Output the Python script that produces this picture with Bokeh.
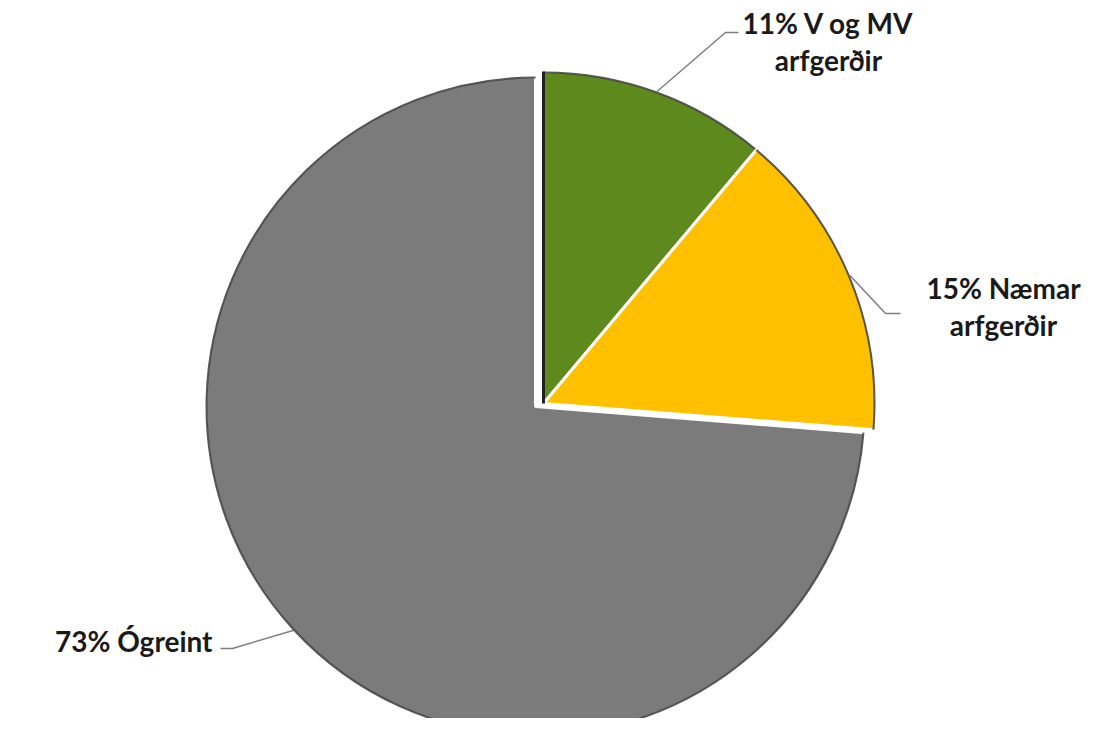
import math
from bokeh.plotting import figure
from bokeh.models import Range1d
from bokeh.core.properties import value
from bokeh.embed import file_html
from bokeh.resources import INLINE

# ---- data ----
categories = ["V og MV arfgerðir", "Næmar arfgerðir", "Ógreint"]
label_lines = [["11% V og MV", "arfgerðir"], ["15% Næmar", "arfgerðir"], ["73% Ógreint"]]
values = [11, 15, 73]

# ---- styles / layout ----
colors = ["#5e8a1d", "#ffc000", "#7b7b7b"]
H = 734  # reference height; y is flipped so that y_data = H - y_screen
W_FIG, H_FIG = 1084, 718
centers = [(543, 403), (543, 403), (535, 406)]
radii = [332, 332, 330]
# label anchor (x, y_screen, align), leader elbow and end (screen coords)
label_pos = [(828, 22, "center"), (1003, 287, "center"), (212, 640, "right")]
leader_elbow = [(725, 32), (885, 313), (232, 648)]
leader_end = [(738, 32), (900, 313), (220, 648)]
FONT = "Lato"

p = figure(width=W_FIG, height=H_FIG, x_range=Range1d(0, W_FIG), y_range=Range1d(H - H_FIG, H),
           output_backend="svg", toolbar_location=None, x_axis_type=None, y_axis_type=None,
           min_border=0)
p.grid.visible = False
p.outline_line_color = None
p.background_fill_color = "white"
p.border_fill_color = "white"

total = float(sum(values))
start = 90.0
angles = []
for v in values:
    sweep = v / total * 360.0
    angles.append((start, start - sweep))
    start -= sweep

# draw gray (largest) first, then the others on top
order = [2, 0, 1]
for i in order:
    a0, a1 = angles[i]
    cx, cy = centers[i]
    r = radii[i]
    p.wedge(x=[cx], y=[H - cy], radius=r, radius_units="data",
            start_angle=math.radians(a0), end_angle=math.radians(a1), direction="clock",
            fill_color=colors[i], line_color="white", line_width=3)
    # dark rim
    p.arc(x=[cx], y=[H - cy], radius=r - 1, radius_units="data",
          start_angle=math.radians(a0), end_angle=math.radians(a1), direction="clock",
          line_color="#2e2e2e", line_width=2, line_alpha=0.8)

# dark edge along left of green slice (3D look)
cx, cy = centers[0]
p.line(x=[cx, cx], y=[H - cy, H - cy + radii[0]], line_color="#222222", line_width=3)

# leader lines and labels
for i in range(3):
    a0, a1 = angles[i]
    mid = math.radians((a0 + a1) / 2)
    cx, cy = centers[i]
    r = radii[i]
    sx = cx + r * math.cos(mid)
    sy = (H - cy) + r * math.sin(mid)
    ex, ey = leader_elbow[i]
    fx, fy = leader_end[i]
    p.line(x=[sx, ex, fx], y=[sy, H - ey, H - fy], line_color="#7f7f7f", line_width=1.5)
    lx, ly, al = label_pos[i]
    for k, t in enumerate(label_lines[i]):
        p.text(x=[lx], y=[H - ly - k * 37], text=[t], text_align=al, text_baseline="middle",
               text_font=value(FONT), text_font_style="bold", text_font_size="28px",
               text_color="#1a1a1a")

open("out.html", "w").write(file_html(p, INLINE))
